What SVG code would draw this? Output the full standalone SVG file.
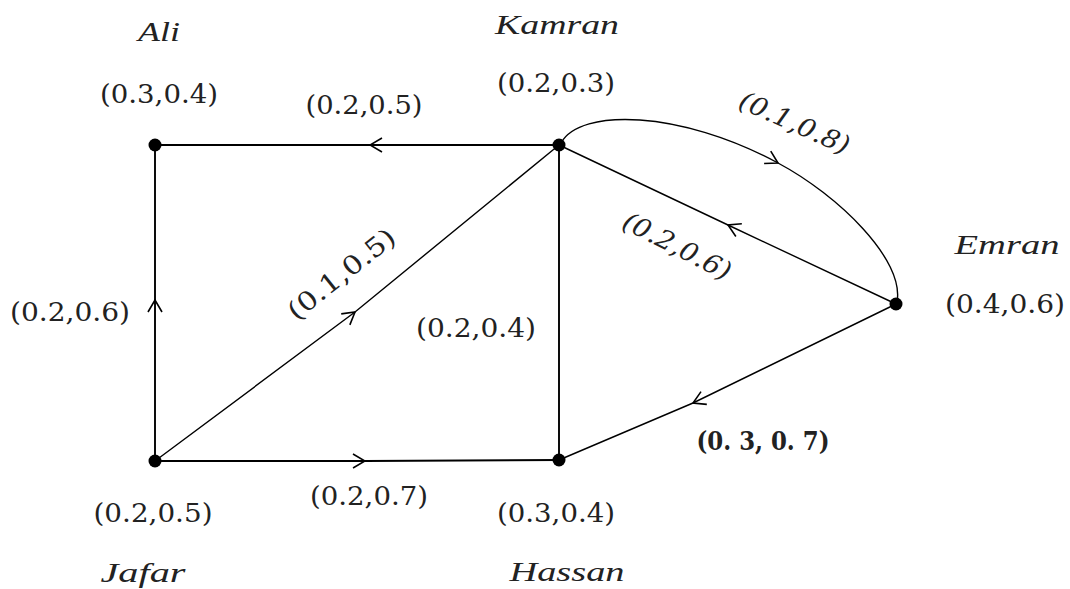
<svg xmlns="http://www.w3.org/2000/svg" width="1070" height="589" viewBox="0 0 1070 589">
<defs>
<marker id="chev" viewBox="0 0 14 16" refX="13" refY="8" markerWidth="14" markerHeight="16" markerUnits="userSpaceOnUse" orient="auto">
<path d="M1,1 L13,8 L1,15" fill="none" stroke="#000" stroke-width="1.6"/>
</marker>
</defs>
<style>
.e{fill:none;stroke:#000;stroke-width:1.9}
.d{fill:none;stroke:#000;stroke-width:1.4}
.a{marker-mid:url(#chev)}
.n{fill:#000}
.v{font-family:"DejaVu Serif","Liberation Serif",serif;font-size:26px;fill:#222}
.i{font-family:"Liberation Serif",serif;font-style:italic;font-size:28px;fill:#222}
.vi{font-family:"DejaVu Serif","Liberation Serif",serif;font-style:italic;font-size:26px;fill:#222}
</style>
<rect width="1070" height="589" fill="#fff"/>
<g id="connectors">
<path class="e a" d="M559,145 L370,145 L155,145"/>
<path class="e a" d="M155,461 L155,300 L155,145"/>
<path class="d a" d="M155,461 L355,312 L559,145"/>
<path class="e a" d="M155,461 L365,461 L559,460"/>
<path class="e" d="M559,145 L559,460"/>
<path class="d a" d="M896,304 L728,225 L559,145"/>
<path class="d a" d="M561,143 C580,108 680,110 778,163 C838,195 905,260 897,302"/>
<path class="d a" d="M896,304 L693,403 L559,460"/>
</g>
<g id="Ali">
<circle class="n" cx="155" cy="145" r="6.5"/>
<text class="i" x="159" y="41" text-anchor="middle" textLength="42" lengthAdjust="spacingAndGlyphs">Ali</text>
<text class="v" x="159" y="103" text-anchor="middle" textLength="118" lengthAdjust="spacingAndGlyphs">(0.3,0.4)</text>
</g>
<g id="Kamran">
<circle class="n" cx="559" cy="145" r="6.5"/>
<text class="i" x="557" y="34" text-anchor="middle" textLength="124" lengthAdjust="spacingAndGlyphs">Kamran</text>
<text class="v" x="556" y="92" text-anchor="middle" textLength="118" lengthAdjust="spacingAndGlyphs">(0.2,0.3)</text>
</g>
<g id="Emran">
<circle class="n" cx="896" cy="304" r="6.5"/>
<text class="i" x="1007" y="254" text-anchor="middle" textLength="105" lengthAdjust="spacingAndGlyphs">Emran</text>
<text class="v" x="1005" y="313" text-anchor="middle" textLength="120" lengthAdjust="spacingAndGlyphs">(0.4,0.6)</text>
</g>
<g id="Jafar">
<circle class="n" cx="155" cy="461" r="6.5"/>
<text class="v" x="153" y="522" text-anchor="middle" textLength="119" lengthAdjust="spacingAndGlyphs">(0.2,0.5)</text>
<text class="i" x="143" y="582" text-anchor="middle" textLength="85" lengthAdjust="spacingAndGlyphs">Jafar</text>
</g>
<g id="Hassan">
<circle class="n" cx="559" cy="460" r="6.5"/>
<text class="v" x="556" y="522" text-anchor="middle" textLength="118" lengthAdjust="spacingAndGlyphs">(0.3,0.4)</text>
<text class="i" x="567" y="581" text-anchor="middle" textLength="115" lengthAdjust="spacingAndGlyphs">Hassan</text>
</g>
<g id="edge-labels">
<text class="v" x="364" y="114" text-anchor="middle" textLength="117" lengthAdjust="spacingAndGlyphs">(0.2,0.5)</text>
<text class="v" x="70" y="321" text-anchor="middle" textLength="120" lengthAdjust="spacingAndGlyphs">(0.2,0.6)</text>
<text class="v" x="476" y="337" text-anchor="middle" textLength="120" lengthAdjust="spacingAndGlyphs">(0.2,0.4)</text>
<text class="v" x="369" y="505" text-anchor="middle" textLength="118" lengthAdjust="spacingAndGlyphs">(0.2,0.7)</text>
<text class="v" x="763" y="450" text-anchor="middle" font-weight="600" textLength="133" lengthAdjust="spacingAndGlyphs">(0. 3, 0. 7)</text>
<text class="v" transform="translate(347,281) rotate(-38.5)" text-anchor="middle" textLength="130" lengthAdjust="spacingAndGlyphs">(0.1,0.5)</text>
<text class="vi" transform="translate(791,131) rotate(24)" text-anchor="middle" textLength="118" lengthAdjust="spacingAndGlyphs">(0.1,0.8)</text>
<text class="vi" transform="translate(673,254) rotate(27)" text-anchor="middle" textLength="118" lengthAdjust="spacingAndGlyphs">(0.2,0.6)</text>
</g>
</svg>
